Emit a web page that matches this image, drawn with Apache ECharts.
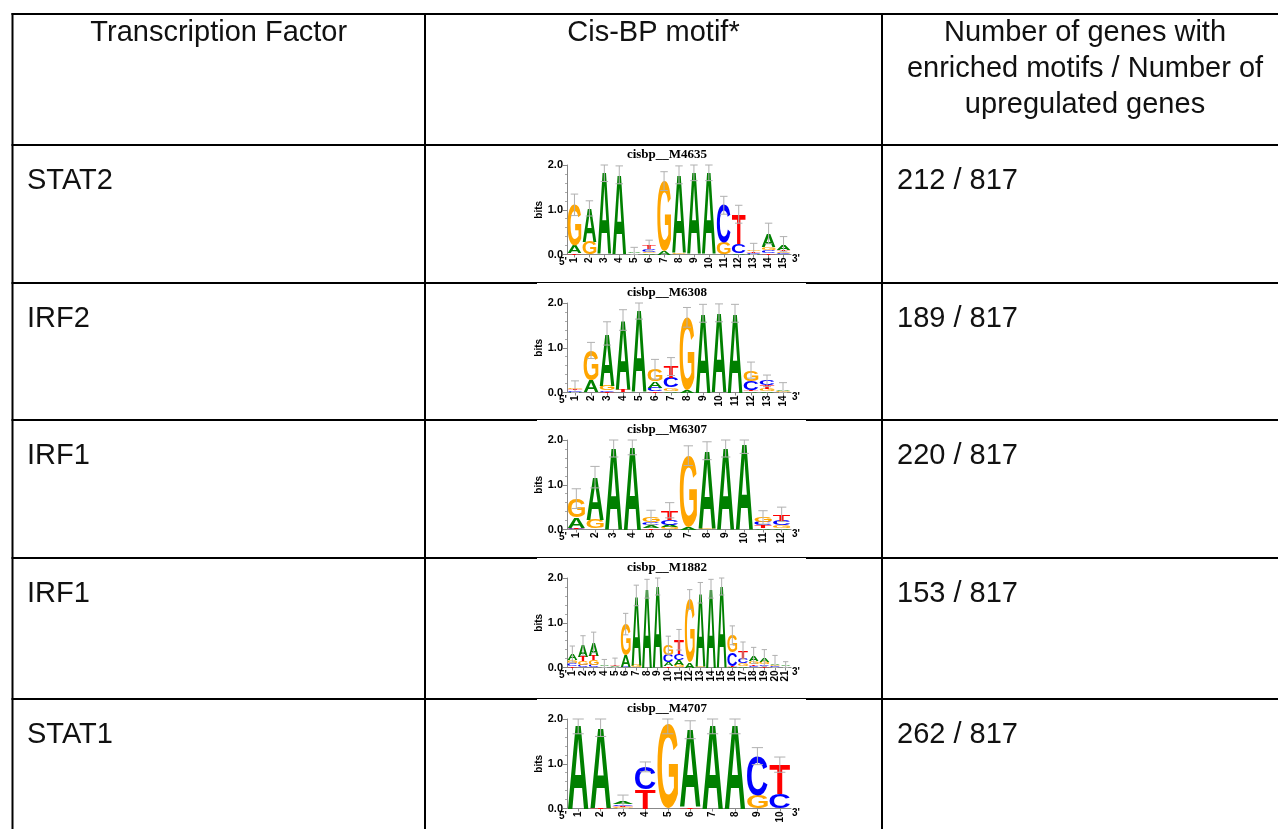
<!DOCTYPE html>
<html><head><meta charset="utf-8">
<script src="https://cdn.jsdelivr.net/npm/echarts@6/dist/echarts.min.js"></script>
<style>html,body{margin:0;padding:0;background:#fff;}#c{width:1278px;height:829px;}</style>
</head><body><div id="c"></div>
<script>
// ---------------- DATA ----------------
const headerCol1 = ['Transcription Factor'];
const headerCol2 = ['Cis-BP motif*'];
const headerCol3 = ['Number of genes with', 'enriched motifs / Number of', 'upregulated genes'];
const tfNames = ['STAT2', 'IRF2', 'IRF1', 'IRF1', 'STAT1'];
const motifIds = ['cisbp__M4635', 'cisbp__M6308', 'cisbp__M6307', 'cisbp__M1882', 'cisbp__M4707'];
const geneRatios = ['212 / 817', '189 / 817', '220 / 817', '153 / 817', '262 / 817'];
const yTicks = [0, 1, 2];

// letter heights (bits) per position
const m4635_A = [0.18, 0.75, 1.82, 1.76, 0.02, 0.03, 0.07, 1.75, 1.84, 1.84, 0.00, 0.04, 0.02, 0.30, 0.12];
const m4635_C = [0.00, 0.00, 0.00, 0.01, 0.01, 0.06, 0.00, 0.00, 0.00, 0.00, 0.84, 0.20, 0.02, 0.06, 0.03];
const m4635_G = [0.90, 0.28, 0.00, 0.00, 0.01, 0.03, 1.57, 0.03, 0.00, 0.00, 0.26, 0.00, 0.04, 0.07, 0.04];
const m4635_T = [0.03, 0.00, 0.01, 0.01, 0.01, 0.08, 0.00, 0.00, 0.01, 0.01, 0.00, 0.66, 0.03, 0.04, 0.04];
const m4635_err = [0.24, 0.17, 0.20, 0.20, 0.11, 0.12, 0.21, 0.20, 0.20, 0.20, 0.20, 0.20, 0.14, 0.23, 0.17];

const m6308_A = [0.02, 0.25, 1.17, 1.55, 1.83, 0.15, 0.04, 0.06, 1.77, 1.77, 1.77, 0.03, 0.03, 0.04];
const m6308_C = [0.03, 0.01, 0.03, 0.01, 0.00, 0.08, 0.22, 0.00, 0.00, 0.00, 0.00, 0.20, 0.10, 0.01];
const m6308_G = [0.04, 0.67, 0.10, 0.00, 0.00, 0.26, 0.07, 1.62, 0.00, 0.00, 0.00, 0.24, 0.05, 0.02];
const m6308_T = [0.03, 0.01, 0.02, 0.06, 0.01, 0.03, 0.25, 0.00, 0.00, 0.01, 0.00, 0.03, 0.08, 0.01];
const m6308_err = [0.14, 0.18, 0.26, 0.23, 0.20, 0.22, 0.20, 0.22, 0.20, 0.20, 0.20, 0.18, 0.13, 0.14];

const m6307_A = [0.24, 0.95, 1.82, 1.87, 0.05, 0.06, 0.05, 1.74, 1.82, 1.90, 0.04, 0.04];
const m6307_C = [0.02, 0.01, 0.00, 0.00, 0.07, 0.11, 0.00, 0.00, 0.00, 0.00, 0.08, 0.11];
const m6307_G = [0.41, 0.20, 0.00, 0.00, 0.11, 0.05, 1.60, 0.02, 0.00, 0.00, 0.10, 0.05];
const m6307_T = [0.02, 0.01, 0.00, 0.00, 0.04, 0.21, 0.00, 0.00, 0.00, 0.00, 0.05, 0.14];
const m6307_err = [0.22, 0.24, 0.20, 0.20, 0.16, 0.17, 0.22, 0.20, 0.20, 0.20, 0.15, 0.16];

const m1882_A = [0.14, 0.25, 0.30, 0.02, 0.02, 0.25, 1.55, 1.76, 1.82, 0.08, 0.10, 0.12, 1.63, 1.76, 1.82, 0.02, 0.04, 0.12, 0.09, 0.04, 0.02];
const m1882_C = [0.05, 0.06, 0.06, 0.01, 0.01, 0.02, 0.00, 0.00, 0.00, 0.16, 0.14, 0.00, 0.00, 0.00, 0.00, 0.30, 0.10, 0.04, 0.04, 0.02, 0.01];
const m1882_G = [0.07, 0.08, 0.10, 0.01, 0.01, 0.70, 0.06, 0.00, 0.00, 0.23, 0.06, 1.40, 0.04, 0.00, 0.00, 0.38, 0.06, 0.07, 0.05, 0.03, 0.01];
const m1882_T = [0.04, 0.10, 0.10, 0.01, 0.03, 0.00, 0.00, 0.00, 0.00, 0.03, 0.32, 0.00, 0.00, 0.00, 0.00, 0.02, 0.18, 0.04, 0.03, 0.01, 0.01];
const m1882_err = [0.18, 0.22, 0.23, 0.13, 0.14, 0.24, 0.23, 0.21, 0.20, 0.20, 0.23, 0.22, 0.23, 0.21, 0.20, 0.21, 0.19, 0.18, 0.19, 0.17, 0.08];

const m4707_A = [1.89, 1.79, 0.05, 0.00, 0.00, 1.73, 1.89, 1.89, 0.00, 0.00];
const m4707_C = [0.00, 0.00, 0.04, 0.49, 0.00, 0.00, 0.00, 0.00, 0.89, 0.32];
const m4707_G = [0.00, 0.00, 0.03, 0.00, 1.87, 0.00, 0.00, 0.00, 0.28, 0.00];
const m4707_T = [0.00, 0.02, 0.03, 0.44, 0.00, 0.03, 0.00, 0.00, 0.00, 0.66];
const m4707_err = [0.22, 0.20, 0.15, 0.11, 0.20, 0.20, 0.22, 0.22, 0.19, 0.17];

// ---------------- BUILD ----------------
const motifs = [
  [m4635_A, m4635_C, m4635_G, m4635_T, m4635_err],
  [m6308_A, m6308_C, m6308_G, m6308_T, m6308_err],
  [m6307_A, m6307_C, m6307_G, m6307_T, m6307_err],
  [m1882_A, m1882_C, m1882_G, m1882_T, m1882_err],
  [m4707_A, m4707_C, m4707_G, m4707_T, m4707_err]
];
const LETTERS = ['A', 'C', 'G', 'T'];
const COLORS = ['#008000', '#0000ff', '#ffa500', '#ff0000'];
const SANS = 'Liberation Sans';
const GFS = 100;
const GFONT = 'bold ' + GFS + 'px ' + SANS;

const mctx = document.createElement('canvas').getContext('2d');
mctx.font = GFONT; mctx.textBaseline = 'middle'; mctx.textAlign = 'left';
const glyphBox = LETTERS.map(ch => {
  const m = mctx.measureText(ch);
  return { l: m.actualBoundingBoxLeft, r: m.actualBoundingBoxRight, a: m.actualBoundingBoxAscent, d: m.actualBoundingBoxDescent };
});

const L = {
  colX: [12.5, 425, 882], rowY: [14, 145, 283, 420, 558, 699],
  right: 1278, bottom: 829, lw: 2,
  gapX: [537, 806],
  logoLeft: 567, logoWidth: 224, logoTop: 20, logoHeight: 89.5,
  fs: 29, lh: 36
};

function renderLogo(params, api) {
  const idx = api.value(0);
  const vals = [api.value(1), api.value(2), api.value(3), api.value(4)];
  const err = api.value(5);
  const band = api.size([1, 0])[0];
  const base = api.coord([idx, 0]);
  const cx = base[0];
  const w = band * 0.92;
  const xL = cx - w / 2;
  const order = [0, 1, 2, 3].filter(k => vals[k] > 0).sort((a, b) => vals[a] - vals[b]);
  const children = [];
  let cum = 0;
  order.forEach(k => {
    const yB = api.coord([idx, cum])[1];
    cum += vals[k];
    const yT = api.coord([idx, cum])[1];
    const h = yB - yT;
    if (h < 0.2) return;
    const g = glyphBox[k];
    const sx = w / (g.l + g.r), sy = h / (g.a + g.d);
    children.push({
      type: 'text', x: xL + g.l * sx, y: yT + g.a * sy, scaleX: sx, scaleY: sy, silent: true,
      style: { text: LETTERS[k], fontSize: GFS, fontFamily: SANS, fontWeight: 'bold', fill: COLORS[k], align: 'left', verticalAlign: 'middle' }
    });
  });
  const hi = Math.min(2, cum + err), lo = Math.max(0, cum - err);
  const yHi = api.coord([idx, hi])[1], yLo = api.coord([idx, lo])[1];
  const cw = Math.max(5, band * 0.5) / 2;
  const es = { stroke: '#b0b0b0', lineWidth: 1 };
  children.push({ type: 'line', silent: true, shape: { x1: cx, y1: yHi, x2: cx, y2: yLo }, style: es });
  children.push({ type: 'line', silent: true, shape: { x1: cx - cw, y1: yHi, x2: cx + cw, y2: yHi }, style: es });
  children.push({ type: 'line', silent: true, shape: { x1: cx - cw, y1: yLo, x2: cx + cw, y2: yLo }, style: es });
  return { type: 'group', children };
}

const grid = [], xAxis = [], yAxis = [], series = [], graphic = [];
motifs.forEach((m, i) => {
  const posLabels = m[0].map((_, j) => String(j + 1));
  const top = L.rowY[i + 1] + L.logoTop;
  grid.push({ left: L.logoLeft, top: top, width: L.logoWidth, height: L.logoHeight });
  xAxis.push({
    gridIndex: i, type: 'category', data: posLabels, boundaryGap: true,
    axisLine: { show: true, lineStyle: { color: '#888', width: 1 } },
    axisTick: { show: true, alignWithLabel: true, length: 3, lineStyle: { color: '#888' } },
    axisLabel: { rotate: 90, interval: 0, fontFamily: SANS, fontWeight: 'bold', fontSize: 10, color: '#000', margin: 3 },
    splitLine: { show: false }
  });
  yAxis.push({
    gridIndex: i, type: 'value', min: yTicks[0], max: yTicks[yTicks.length - 1], interval: 1,
    name: 'bits', nameLocation: 'middle', nameGap: 17, nameRotate: 90,
    nameTextStyle: { fontFamily: SANS, fontWeight: 'bold', fontSize: 10, color: '#000' },
    axisLine: { show: true, lineStyle: { color: '#888', width: 1 } },
    axisTick: { show: true, length: 4, lineStyle: { color: '#888' } },
    minorTick: { show: true, splitNumber: 5, length: 2, lineStyle: { color: '#aaa' } },
    axisLabel: { formatter: v => v.toFixed(1), fontFamily: SANS, fontWeight: 'bold', fontSize: 11, color: '#000', margin: 4 },
    splitLine: { show: false }
  });
  series.push({
    type: 'custom', xAxisIndex: i, yAxisIndex: i, animation: false, clip: false,
    renderItem: renderLogo, encode: { x: 0, y: 1 },
    data: m[0].map((_, j) => [j, m[0][j], m[1][j], m[2][j], m[3][j], m[4][j]])
  });
  graphic.push({ type: 'text', x: L.logoLeft + 100, y: L.rowY[i + 1] + 9.5, silent: true,
    style: { text: motifIds[i], font: 'bold 13px Liberation Serif', fill: '#000', align: 'center', verticalAlign: 'middle', textAlign: 'center', textVerticalAlign: 'middle' } });
  graphic.push({ type: 'text', x: L.logoLeft - 4, y: top + L.logoHeight + 8, silent: true,
    style: { text: "5'", font: 'bold 10px ' + SANS, fill: '#000', align: 'center', verticalAlign: 'middle', textAlign: 'center', textVerticalAlign: 'middle' } });
  graphic.push({ type: 'text', x: L.logoLeft + L.logoWidth + 5, y: top + L.logoHeight + 5, silent: true,
    style: { text: "3'", font: 'bold 10px ' + SANS, fill: '#000', align: 'center', verticalAlign: 'middle', textAlign: 'center', textVerticalAlign: 'middle' } });
});

// table lines
const ls = { stroke: '#000', lineWidth: L.lw };
L.colX.forEach(x => graphic.push({ type: 'line', silent: true, shape: { x1: x, y1: L.rowY[0] - 1, x2: x, y2: L.bottom + 2 }, style: ls }));
L.rowY.forEach((y, r) => {
  if (r < 2) {
    graphic.push({ type: 'line', silent: true, shape: { x1: L.colX[0] - 1, y1: y, x2: L.right + 2, y2: y }, style: ls });
  } else {
    graphic.push({ type: 'line', silent: true, shape: { x1: L.colX[0] - 1, y1: y, x2: L.gapX[0], y2: y }, style: ls });
    graphic.push({ type: 'line', silent: true, shape: { x1: L.gapX[1], y1: y, x2: L.right + 2, y2: y }, style: ls });
    graphic.push({ type: 'line', silent: true, shape: { x1: L.gapX[0], y1: y - 0.5, x2: L.gapX[1], y2: y - 0.5 }, style: { stroke: '#000', lineWidth: 1 } });
  }
});

// table texts
const txt = (s, x, y, align) => ({ type: 'text', x: x, y: y, silent: true,
  style: { text: s, font: L.fs + 'px ' + SANS, fill: '#111', align: align, verticalAlign: 'middle', textAlign: align, textVerticalAlign: 'middle' } });
const hy = L.rowY[0] + 19;
headerCol1.forEach((s, k) => graphic.push(txt(s, (L.colX[0] + L.colX[1]) / 2, hy + k * L.lh, 'center')));
headerCol2.forEach((s, k) => graphic.push(txt(s, (L.colX[1] + L.colX[2]) / 2, hy + k * L.lh, 'center')));
headerCol3.forEach((s, k) => graphic.push(txt(s, 1085, hy + k * L.lh, 'center')));
tfNames.forEach((s, i) => graphic.push(txt(s, L.colX[0] + 14.5, L.rowY[i + 1] + 36, 'left')));
geneRatios.forEach((s, i) => graphic.push(txt(s, L.colX[2] + 15, L.rowY[i + 1] + 36, 'left')));

const chart = echarts.init(document.getElementById('c'));
chart.setOption({ animation: false, backgroundColor: '#fff', grid, xAxis, yAxis, series, graphic });
</script>
</body></html>
